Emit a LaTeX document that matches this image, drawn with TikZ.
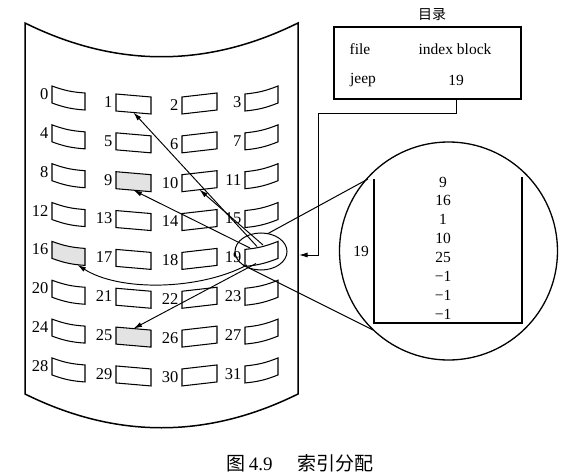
\documentclass[tikz,border=0pt]{standalone}
\usepackage{fontspec}
\setmainfont{Liberation Serif}
\newfontfamily\cjk{Noto Sans CJK SC}
\usepackage{tikz}
\usetikzlibrary{calc,arrows.meta}

\begin{document}
\begin{tikzpicture}[x=1pt,y=-1pt,font=\fontsize{15.5}{17}\selectfont,
    blk/.style={draw,line width=1.05pt},
    ptr/.style={line width=0.95pt,-{Latex[length=8.5pt,width=5pt]}}]
\useasboundingbox (0,0) rectangle (573,476);
\coordinate (E) at (261,251.5);
\coordinate (Z) at (448.5,251);
\coordinate (in19) at (299,255);
%\draw[gray] (E) circle(26);
\draw[line width=1.5pt] (25,23) .. controls (116,68) and (207,68) .. (298,23)
  -- (298,394) .. controls (207,439) and (116,439) .. (25,394) -- cycle;
\draw[line width=1pt] (E) ellipse (26 and 18.5);

\foreach \c/\xl/\xr/\yl/\yr/\bb in {0/52/85/86/93/8,1/116/151/94/97/0,2/182/217/97/93/0,3/245/278/94/86/8}{
  \foreach \r in {0,...,7}{
    \pgfmathtruncatemacro\n{4*\r+\c}
    \pgfmathsetmacro\dy{38.85*\r}
    \def\fc{white}
    \ifnum\n=9 \def\fc{gray!22}\fi
    \ifnum\n=16 \def\fc{gray!22}\fi
    \ifnum\n=25 \def\fc{gray!22}\fi
    \draw[blk,fill=\fc] (\xl,\yl+\dy) to[bend right=\bb] (\xr,\yr+\dy) -- (\xr,\yr+\dy+17)
      to[bend left=\bb] (\xl,\yl+\dy+17) -- cycle;
    \node[anchor=east,inner sep=0pt,font=\fontsize{16.5}{18}\selectfont] (l\n) at (\xl-3.5,\yl+\dy+8) {\n};
    \coordinate (bt\n) at ({(\xl+\xr)/2},{(\yl+\yr)/2+\dy});
    \coordinate (bb\n) at ({(\xl+\xr)/2},{(\yl+\yr)/2+\dy+17});
  }
}

\coordinate (s1) at (257,246.5);
\coordinate (s10) at (263,245);
\coordinate (s9) at (250,248);
\coordinate (s16) at (247,265);
\coordinate (s25) at (256,263.5);
\draw[ptr] (s1) -- (bb1);
\draw[ptr] (s10) -- (bb10);
\draw[ptr] (s9) -- (bb9);
\draw[ptr] (s25) -- (bt25);
\draw[ptr] (s16) .. controls (200,290) and (120,292) .. ([xshift=9pt,yshift=-3pt]bb16);

% directory
\node[draw,line width=1.2pt,minimum width=187pt,minimum height=72pt] (dir) at (427.5,63) {};
\node (dtitle) at (432,15) {\cjk\fontsize{14}{16}\selectfont 目录};
\node (hfile) at (360,49) {file};
\node (hidx) at (455,49) {index block};
\node (vjeep) at (363,80) {jeep};
\node (v19) at (456,80) {19};
\draw[ptr,line width=1pt] (v19 |- dir.south) |- (318,114) |- (in19);

% index block
\draw[line width=1.3pt] (Z) circle (109);
\draw[line width=1.2pt] (374,179) -- (374,323) -- (522,323) -- (522,177);
\foreach \v [count=\i from 0] in {9,16,1,10,25,−1,−1,−1}
  \node (i\i) at (443,182+18.9*\i) {\v};
\node (n19) at (361,251) {19};
\coordinate (e1) at (268,233.5);
\coordinate (e2) at (243,265);
\coordinate (z1) at (368,179);
\coordinate (z2) at (373,330);
\draw[line width=1pt] (e1) -- (z1);
\draw[line width=1pt] (e2) -- (z2);

\node (cap) at (300,463) {\cjk\fontsize{19}{21}\selectfont 图\,{\rmfamily 4.9}\hspace{1.3em}索引分配};
\end{tikzpicture}
\end{document}
